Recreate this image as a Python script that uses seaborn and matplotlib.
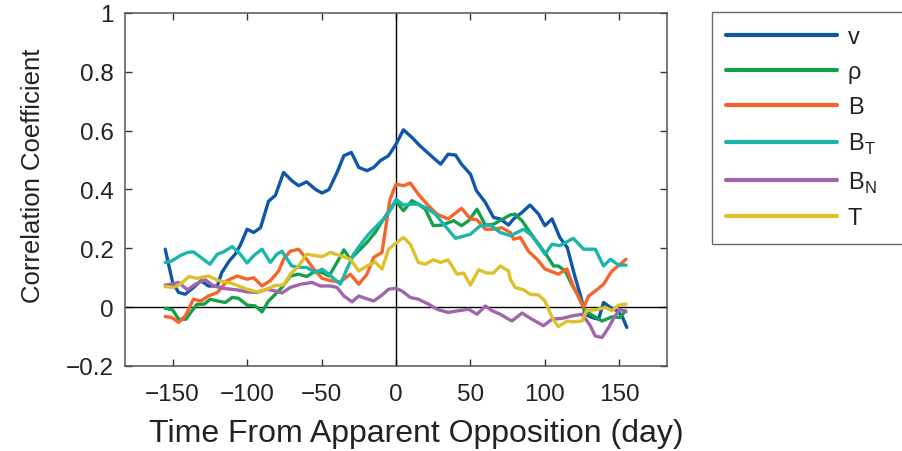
import numpy as np
import pandas as pd
import matplotlib
matplotlib.use("Agg")
import matplotlib.pyplot as plt
import seaborn as sns

# ---- data ----
v_x = [-155, -150, -146, -141.5, -136, -131, -126, -120, -117, -112, -108, -104.6, -100, -95.6, -91, -85.6,
       -81, -75.5, -70, -65.4, -60, -54, -49.7, -45, -39.6, -35, -30, -25, -19.5, -15, -10.5, -5, 0,
       5, 10.7, 16, 23, 30, 35, 40, 44, 50, 54, 60, 65.5, 70, 75.6, 79, 84.6, 90, 95.8, 100, 104.8,
       110, 115, 120, 124, 127, 131.6, 136, 139.4, 144, 148.4, 151.8, 155]
v_y = [0.197, 0.084, 0.05, 0.044, 0.067, 0.09, 0.072, 0.072, 0.118, 0.157, 0.18, 0.21, 0.265, 0.254, 0.27, 0.36,
       0.38, 0.458, 0.43, 0.413, 0.426, 0.40, 0.388, 0.40, 0.458, 0.515, 0.526, 0.475, 0.464, 0.475, 0.498, 0.515, 0.554,
       0.603, 0.577, 0.549, 0.517, 0.486, 0.52, 0.517, 0.486, 0.452, 0.396, 0.356, 0.305, 0.30, 0.279, 0.30, 0.322, 0.347, 0.316, 0.277, 0.30,
       0.237, 0.203, 0.107, 0.038, -0.024, -0.035, -0.041, 0.016, -0.001, -0.012, -0.03, -0.069]

rho_x = [-155, -150, -146, -141, -137, -133.6, -129, -124.7, -120, -114.6, -110, -105.7, -100, -94.5, -90, -85.6,
         -81, -76.6, -71, -65.4, -60, -54, -49.7, -45, -39.6, -35, -30.7, -25, -19.5, -14, -8.3, -4, 0,
         5, 10.7, 15, 19.7, 25, 31, 38.7, 44, 48.8, 54.4, 60, 65.5, 72, 76.8, 80, 84.6, 90, 95.8, 101.4,
         105.8, 109, 113.7, 118, 122.6, 127, 132.7, 138.4, 145, 150.6, 154]
rho_y = [-0.004, -0.009, -0.041, -0.041, -0.012, 0.01, 0.01, 0.027, 0.021, 0.016, 0.033, 0.03, 0.007, 0.004, -0.016, 0.021,
         0.044, 0.067, 0.106, 0.112, 0.104, 0.123, 0.118, 0.106, 0.152, 0.195, 0.163, 0.192, 0.22, 0.254, 0.30, 0.333, 0.36,
         0.328, 0.362, 0.35, 0.333, 0.277, 0.279, 0.294, 0.277, 0.294, 0.333, 0.279, 0.282, 0.30, 0.314, 0.316, 0.294, 0.254, 0.214, 0.175,
         0.14, 0.14, 0.123, 0.078, 0.038, -0.012, -0.03, -0.047, -0.033, -0.035, -0.012]

b_x = [-155, -150.6, -146, -141.5, -136, -131, -126, -120, -117, -113.5, -106.8, -100, -95.6, -90, -84.4, -78.8,
       -75.5, -71, -65.4, -60, -55.3, -49.7, -44, -37.4, -30.7, -25, -19.5, -15, -9.4, -4, 0,
       5, 9.6, 15, 20.8, 27.5, 35, 44, 50, 54.4, 60, 65.5, 71, 76.8, 79, 83.5, 89, 94.7, 100,
       109, 114.8, 119, 123.8, 126, 129.4, 133.8, 139.4, 145, 150.6, 154.5]
b_y = [-0.032, -0.035, -0.052, -0.03, 0.027, 0.021, 0.038, 0.05, 0.067, 0.09, 0.106, 0.095, 0.10, 0.072, 0.09, 0.123,
       0.163, 0.19, 0.197, 0.163, 0.13, 0.098, 0.09, 0.086, 0.112, 0.078, 0.112, 0.169, 0.186, 0.367, 0.418,
       0.413, 0.422, 0.384, 0.35, 0.316, 0.30, 0.336, 0.30, 0.297, 0.265, 0.265, 0.27, 0.254, 0.231, 0.237, 0.19, 0.163, 0.13,
       0.112, 0.13, 0.072, 0.021, -0.001, 0.038, 0.055, 0.078, 0.123, 0.146, 0.163]

bt_x = [-155, -150.6, -145, -140, -136, -130, -125, -120, -115.8, -110, -104.6, -100, -95.6, -90, -84.4, -80,
        -76.6, -70, -64, -60, -54, -49.7, -45, -42, -37.4, -33, -28.5, -22.8, -18.4, -12.8, -7.2, -2.7, 0,
        5, 9.6, 15, 20.8, 26.4, 32, 40, 50, 56.6, 63.3, 70, 76.8, 79, 85.7, 91.3, 97, 100, 104.8,
        110, 119, 126, 133.8, 139.4, 144, 149.5, 154.5]
bt_y = [0.152, 0.157, 0.175, 0.186, 0.188, 0.165, 0.146, 0.18, 0.188, 0.206, 0.18, 0.15, 0.175, 0.197, 0.152, 0.18,
        0.19, 0.14, 0.135, 0.135, 0.118, 0.129, 0.112, 0.098, 0.078, 0.129, 0.18, 0.22, 0.248, 0.277, 0.305, 0.339, 0.367,
        0.347, 0.35, 0.35, 0.336, 0.316, 0.282, 0.234, 0.248, 0.277, 0.279, 0.254, 0.243, 0.248, 0.265, 0.243, 0.203, 0.18, 0.214,
        0.209, 0.234, 0.197, 0.197, 0.14, 0.163, 0.143, 0.143]

bn_x = [-155, -150.6, -146, -140, -134.8, -128, -122.5, -114.6, -106.8, -100, -93.3, -86.6,
        -81, -76.6, -71, -64, -56.4, -50.8, -44, -39.6, -35, -29.5, -25, -20.6, -15, -9.4, -5, 0,
        4, 9.6, 15, 22, 27.5, 35, 42, 48.8, 54.4, 60, 64.5, 70, 75.6, 77.9, 84.6, 91.3, 99, 104.8,
        111.5, 118, 125, 130.5, 133.8, 138.4, 142.8, 147, 150.6, 154.5]
bn_y = [0.075, 0.078, 0.084, 0.059, 0.078, 0.093, 0.072, 0.063, 0.059, 0.052, 0.05, 0.061,
        0.055, 0.048, 0.067, 0.078, 0.084, 0.072, 0.072, 0.067, 0.038, 0.018, 0.038, 0.03, 0.021, 0.041, 0.061, 0.064,
        0.055, 0.033, 0.027, 0.01, -0.007, -0.018, -0.012, -0.007, -0.024, 0.004, -0.012, -0.024, -0.041, -0.047, -0.02, -0.041, -0.063, -0.041,
        -0.038, -0.03, -0.024, -0.063, -0.098, -0.103, -0.069, -0.03, -0.007, -0.016]

t_x = [-155, -149.4, -145, -139, -133.6, -126, -119, -111, -105.7, -100, -93.3, -86.6,
       -81, -75.5, -71, -65.4, -60, -54, -49.7, -44, -38.5, -30.7, -25, -19.5, -14, -9.4, -5, 0,
       5, 9.6, 15, 19.7, 25, 30, 35, 41, 45.4, 50, 55.5, 61, 65.5, 70, 75.6, 76.8, 80, 85.7, 90, 95.8, 100,
       104.8, 109, 115, 119, 125, 128, 133.8, 140.6, 145, 149.5, 154.5]
t_y = [0.07, 0.067, 0.078, 0.104, 0.098, 0.106, 0.09, 0.082, 0.072, 0.061, 0.052, 0.061,
       0.074, 0.075, 0.112, 0.14, 0.18, 0.175, 0.172, 0.186, 0.177, 0.163, 0.123, 0.14, 0.154, 0.129, 0.197, 0.218,
       0.237, 0.214, 0.152, 0.146, 0.161, 0.152, 0.161, 0.112, 0.116, 0.075, 0.127, 0.116, 0.116, 0.14, 0.123, 0.095, 0.067, 0.059, 0.044, 0.041, 0.021,
       -0.035, -0.066, -0.047, -0.05, -0.047, -0.012, -0.009, -0.001, -0.012, 0.007, 0.01]

series_names = ["v", "ρ", "B", "B_T", "B_N", "T"]
legend_labels = ["v", "ρ", "B", r"B$_{\mathrm{T}}$", r"B$_{\mathrm{N}}$", "T"]
colors = ["#0f57a8", "#14a04b", "#f5642b", "#1ab5ad", "#a066ac", "#dcc12a"]
x_ticks = [-150, -100, -50, 0, 50, 100, 150]
y_ticks = [-0.2, 0, 0.2, 0.4, 0.6, 0.8, 1.0]
y_ticklabels = ["\u22120.2", "0", "0.2", "0.4", "0.6", "0.8", "1"]
x_ticklabels = ["\u2212150", "\u2212100", "\u221250", "0", "50", "100", "150"]

all_x = [v_x, rho_x, b_x, bt_x, bn_x, t_x]
all_y = [v_y, rho_y, b_y, bt_y, bn_y, t_y]
df = pd.concat([pd.DataFrame({"day": xs, "r": ys, "var": name})
                for name, xs, ys in zip(series_names, all_x, all_y)], ignore_index=True)

sns.set_style("ticks")
plt.rcParams["font.family"] = ["Liberation Sans", "DejaVu Sans"]
plt.rcParams["mathtext.fontset"] = "custom"
plt.rcParams["mathtext.rm"] = "Liberation Sans"

fig = plt.figure(figsize=(9.03, 4.52), dpi=100)
ax = fig.add_axes([125 / 903, 1 - 367 / 452, (667 - 125) / 903, (367 - 14) / 452])

sns.lineplot(data=df, x="day", y="r", hue="var", hue_order=series_names,
             palette=dict(zip(series_names, colors)), estimator=None, sort=False,
             linewidth=2.4, ax=ax, legend=False)

ax.axvline(0, color="black", linewidth=1.0, zorder=1)
ax.axhline(0, color="black", linewidth=1.0, zorder=1)

ax.set_xlim(-182, 182)
ax.set_ylim(-0.2, 1.0)
ax.set_xticks(x_ticks)
ax.set_xticklabels(x_ticklabels)
ax.set_yticks(y_ticks)
ax.set_yticklabels(y_ticklabels)
ax.tick_params(direction="in", length=5, width=1, top=True, right=True,
               labelsize=17.5, color="#333333", labelcolor="#222222")
ax.tick_params(axis="x", pad=12)
ax.tick_params(axis="y", pad=8)
for s in ax.spines.values():
    s.set_color("#555555")
    s.set_linewidth(1.1)

ax.set_xlabel("Time From Apparent Opposition (day)", fontsize=23, color="#222222")
ax.xaxis.set_label_coords((416 - 125) / 542, -(434 - 367) / 353, transform=ax.transAxes)
ax.xaxis.label.set_verticalalignment("center")
ax.set_ylabel("Correlation Coefficient", fontsize=18.5, color="#222222")
ax.yaxis.set_label_coords(-(125 - 33) / 542, (367 - 176) / 353, transform=ax.transAxes)
ax.yaxis.label.set_verticalalignment("center")

handles = [plt.Line2D([], [], color=c, linewidth=3) for c in colors]
leg = fig.legend(handles, legend_labels, loc="upper left", mode="expand",
                 bbox_to_anchor=(712 / 903, 1 - 13 / 452, 240 / 903, 0), bbox_transform=fig.transFigure,
                 fontsize=17, frameon=True, fancybox=False, edgecolor="#444444",
                 handlelength=4.7, handletextpad=0.45, borderpad=0.6, labelspacing=0.55,
                 borderaxespad=0)
leg.get_frame().set_linewidth(1.0)
for t in leg.get_texts():
    t.set_color("#222222")

fig.savefig("out.png", dpi=100)
